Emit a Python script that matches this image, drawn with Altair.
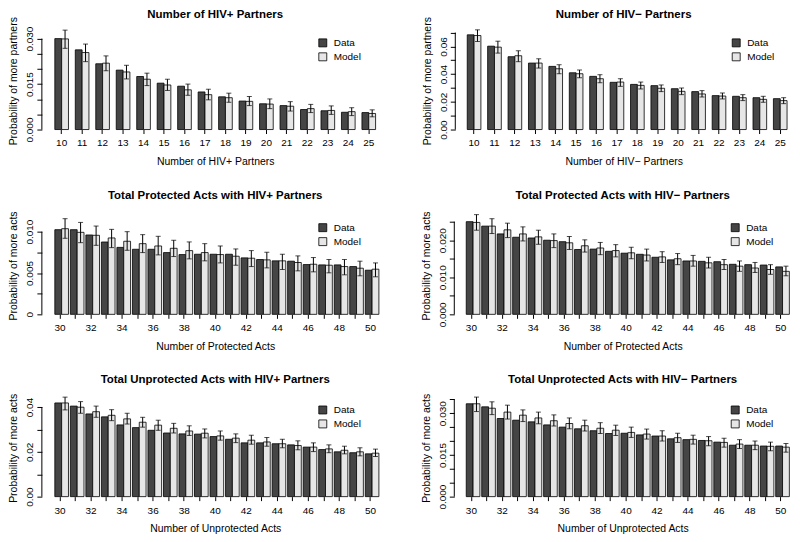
import altair as alt
import pandas as pd

FONT = "Liberation Sans"
DARK = "#454545"
LIGHT = "#e6e6e6"

# ---------------- data ----------------
partners_x = list(range(10, 26))
acts_x = list(range(30, 51))

hivpos_data = [0.0300, 0.0263, 0.0217, 0.0196, 0.0175, 0.0153, 0.0143, 0.0124, 0.0108, 0.0094, 0.0085, 0.0079, 0.0066, 0.0062, 0.0057, 0.0056]
hivpos_model = [0.0299, 0.0254, 0.0219, 0.0190, 0.0166, 0.0147, 0.0131, 0.0115, 0.0105, 0.0093, 0.0084, 0.0077, 0.0069, 0.0063, 0.0059, 0.0053]
hivpos_lo = [0.0268, 0.0224, 0.0194, 0.0167, 0.0145, 0.0129, 0.0113, 0.0098, 0.0090, 0.0079, 0.0069, 0.0061, 0.0056, 0.0050, 0.0046, 0.0042]
hivpos_hi = [0.0328, 0.0282, 0.0243, 0.0212, 0.0186, 0.0166, 0.0150, 0.0133, 0.0120, 0.0109, 0.0101, 0.0092, 0.0083, 0.0078, 0.0072, 0.0065]

hivneg_data = [0.0684, 0.0602, 0.0526, 0.0480, 0.0456, 0.0410, 0.0384, 0.0341, 0.0326, 0.0317, 0.0295, 0.0274, 0.0245, 0.0240, 0.0230, 0.0223]
hivneg_model = [0.0679, 0.0595, 0.0533, 0.0480, 0.0439, 0.0403, 0.0367, 0.0343, 0.0319, 0.0298, 0.0276, 0.0257, 0.0242, 0.0230, 0.0218, 0.0209]
hivneg_lo = [0.0636, 0.0552, 0.0490, 0.0444, 0.0403, 0.0374, 0.0338, 0.0312, 0.0293, 0.0274, 0.0252, 0.0235, 0.0221, 0.0209, 0.0197, 0.0187]
hivneg_hi = [0.0720, 0.0638, 0.0569, 0.0511, 0.0468, 0.0430, 0.0396, 0.0367, 0.0343, 0.0322, 0.0300, 0.0281, 0.0264, 0.0252, 0.0240, 0.0230]

protpos_data = [0.01024, 0.01024, 0.0096, 0.00875, 0.0081, 0.00787, 0.00787, 0.00747, 0.00723, 0.00727, 0.00727, 0.00727, 0.00683, 0.00663, 0.00647, 0.00643, 0.00602, 0.00598, 0.00598, 0.00578, 0.00534]
protpos_model = [0.01036, 0.00992, 0.00956, 0.00924, 0.00884, 0.00855, 0.00827, 0.00799, 0.00771, 0.00747, 0.00723, 0.00703, 0.00679, 0.00659, 0.00647, 0.00627, 0.00606, 0.00594, 0.00578, 0.00558, 0.00546]
protpos_lo = [0.0092, 0.00867, 0.00835, 0.00807, 0.00775, 0.00747, 0.00719, 0.00699, 0.00671, 0.00647, 0.00622, 0.00594, 0.00578, 0.00562, 0.00542, 0.00526, 0.00514, 0.00502, 0.00478, 0.00466, 0.00454]
protpos_hi = [0.01157, 0.01112, 0.01068, 0.01028, 0.0100, 0.00964, 0.00944, 0.00896, 0.00876, 0.00855, 0.00827, 0.00791, 0.00771, 0.00751, 0.00727, 0.00707, 0.00687, 0.00663, 0.00663, 0.00643, 0.00622]

protneg_data = [0.0250, 0.0238, 0.0217, 0.0208, 0.0206, 0.0200, 0.0196, 0.0175, 0.0176, 0.0170, 0.0165, 0.0162, 0.0154, 0.0147, 0.0144, 0.0143, 0.0142, 0.0135, 0.0134, 0.0133, 0.0128]
protneg_model = [0.0248, 0.0238, 0.0228, 0.0217, 0.0209, 0.0199, 0.0193, 0.0185, 0.0179, 0.0172, 0.0166, 0.0160, 0.0155, 0.0150, 0.0144, 0.0139, 0.0134, 0.0130, 0.0125, 0.0121, 0.0116]
protneg_lo = [0.0227, 0.0218, 0.0207, 0.0198, 0.0189, 0.0180, 0.0175, 0.0168, 0.0161, 0.0155, 0.0150, 0.0144, 0.0140, 0.0134, 0.0130, 0.0125, 0.0121, 0.0116, 0.0113, 0.0108, 0.0104]
protneg_hi = [0.0269, 0.0258, 0.0246, 0.0236, 0.0227, 0.0217, 0.0210, 0.0201, 0.0194, 0.0188, 0.0181, 0.0176, 0.0169, 0.0164, 0.0159, 0.0154, 0.0148, 0.0144, 0.0140, 0.0134, 0.0130]

unprotpos_data = [0.0418, 0.0404, 0.0369, 0.0356, 0.0320, 0.0308, 0.0296, 0.0284, 0.0280, 0.0279, 0.0268, 0.0256, 0.0240, 0.0240, 0.0236, 0.0231, 0.0221, 0.0210, 0.0200, 0.0196, 0.0191]
unprotpos_model = [0.0418, 0.0399, 0.0379, 0.0363, 0.0347, 0.0332, 0.0319, 0.0305, 0.0293, 0.0283, 0.0271, 0.0261, 0.0252, 0.0244, 0.0236, 0.0228, 0.0221, 0.0213, 0.0207, 0.0200, 0.0194]
unprotpos_lo = [0.0387, 0.0372, 0.0354, 0.0339, 0.0324, 0.0310, 0.0296, 0.0284, 0.0273, 0.0262, 0.0252, 0.0241, 0.0234, 0.0225, 0.0218, 0.0209, 0.0201, 0.0196, 0.0191, 0.0182, 0.0179]
unprotpos_hi = [0.0444, 0.0424, 0.0404, 0.0388, 0.0372, 0.0354, 0.0341, 0.0327, 0.0316, 0.0302, 0.0293, 0.0280, 0.0274, 0.0264, 0.0256, 0.0249, 0.0240, 0.0231, 0.0225, 0.0218, 0.0212]

unprotneg_data = [0.0334, 0.0323, 0.0281, 0.0275, 0.0269, 0.0258, 0.0250, 0.0244, 0.0237, 0.0227, 0.0228, 0.0222, 0.0218, 0.0208, 0.0205, 0.0202, 0.0196, 0.0185, 0.0185, 0.0182, 0.0182]
unprotneg_model = [0.0334, 0.0318, 0.0304, 0.0293, 0.0283, 0.0273, 0.0263, 0.0255, 0.0246, 0.0239, 0.0231, 0.0225, 0.0218, 0.0212, 0.0206, 0.0201, 0.0195, 0.0189, 0.0185, 0.0181, 0.0178]
unprotneg_lo = [0.0306, 0.0295, 0.0279, 0.0270, 0.0262, 0.0254, 0.0244, 0.0236, 0.0227, 0.0220, 0.0213, 0.0207, 0.0200, 0.0195, 0.0189, 0.0183, 0.0178, 0.0173, 0.0169, 0.0165, 0.0160]
unprotneg_hi = [0.0358, 0.0341, 0.0329, 0.0312, 0.0304, 0.0294, 0.0283, 0.0275, 0.0266, 0.0257, 0.0250, 0.0243, 0.0237, 0.0228, 0.0221, 0.0216, 0.0210, 0.0205, 0.0200, 0.0196, 0.0191]

# y-axis ticks and labelled ticks
ticks_p1 = [0.0, 0.005, 0.01, 0.015, 0.02, 0.025, 0.03]
labels_p1 = [(0.0, "0.000"), (0.015, "0.015"), (0.03, "0.030")]
ticks_p2 = [0.0, 0.01, 0.02, 0.03, 0.04, 0.05, 0.06, 0.07]
labels_p2 = [(0.0, "0.00"), (0.02, "0.02"), (0.04, "0.04"), (0.06, "0.06")]
ticks_p3 = [0.0, 0.0025, 0.005, 0.0075, 0.01]
labels_p3 = [(0.0, "0"), (0.005, "0.005"), (0.01, "0.010")]
ticks_p4 = [0.0, 0.005, 0.01, 0.015, 0.02, 0.025]
labels_p4 = [(0.0, "0.000"), (0.01, "0.010"), (0.02, "0.020")]
ticks_p5 = [0.0, 0.01, 0.02, 0.03, 0.04]
labels_p5 = [(0.0, "0.00"), (0.02, "0.02"), (0.04, "0.04")]
ticks_p6 = [0.0, 0.005, 0.01, 0.015, 0.02, 0.025, 0.03, 0.035]
labels_p6 = [(0.0, "0.000"), (0.015, "0.015"), (0.03, "0.030")]

H = 98
LEFT = dict(W=348, L=13, R=13, lx=277)
RIGHT = dict(W=338, L=12, R=5, lx=277)

panels = [
    dict(title="Number of HIV+ Partners", xtitle="Number of HIV+ Partners", ytitle="Probability of more partners",
         x=partners_x, data=hivpos_data, model=hivpos_model, lo=hivpos_lo, hi=hivpos_hi,
         ticks=ticks_p1, labels=labels_p1, ymax=0.03221, even=False, toff=-4.5, **LEFT),
    dict(title="Number of HIV\u2212 Partners", xtitle="Number of HIV\u2212 Partners", ytitle="Probability of more partners",
         x=partners_x, data=hivneg_data, model=hivneg_model, lo=hivneg_lo, hi=hivneg_hi,
         ticks=ticks_p2, labels=labels_p2, ymax=0.0705, even=False, toff=-4.5, **RIGHT),
    dict(title="Total Protected Acts with HIV+ Partners", xtitle="Number of Protected Acts", ytitle="Probability of more acts",
         x=acts_x, data=protpos_data, model=protpos_model, lo=protpos_lo, hi=protpos_hi,
         ticks=ticks_p3, labels=labels_p3, ymax=0.01181, even=True, toff=9.5, **LEFT),
    dict(title="Total Protected Acts with HIV\u2212 Partners", xtitle="Number of Protected Acts", ytitle="Probability of more acts",
         x=acts_x, data=protneg_data, model=protneg_model, lo=protneg_lo, hi=protneg_hi,
         ticks=ticks_p4, labels=labels_p4, ymax=0.02634, even=True, toff=9.5, **RIGHT),
    dict(title="Total Unprotected Acts with HIV+ Partners", xtitle="Number of Unprotected Acts", ytitle="Probability of more acts",
         x=acts_x, data=unprotpos_data, model=unprotpos_model, lo=unprotpos_lo, hi=unprotpos_hi,
         ticks=ticks_p5, labels=labels_p5, ymax=0.04356, even=True, toff=8, **LEFT),
    dict(title="Total Unprotected Acts with HIV\u2212 Partners", xtitle="Number of Unprotected Acts", ytitle="Probability of more acts",
         x=acts_x, data=unprotneg_data, model=unprotneg_model, lo=unprotneg_lo, hi=unprotneg_hi,
         ticks=ticks_p6, labels=labels_p6, ymax=0.03511, even=True, toff=8, **RIGHT),
]


def make_panel(p):
    n = len(p["x"])
    span = p["W"] - p["L"] - p["R"]
    step = span / (n - 1.0 / 3.0)
    po = (p["L"] + p["R"]) / (2.0 * step)
    al = p["L"] / (p["L"] + p["R"])

    bars = pd.DataFrame({
        "x": p["x"] + p["x"],
        "series": ["Data"] * n + ["Model"] * n,
        "value": p["data"] + p["model"],
    })
    err = pd.DataFrame({"x": p["x"], "series": ["Model"] * n, "lo": p["lo"], "hi": p["hi"]})
    axline = pd.DataFrame({"y0": [p["ticks"][0]], "y1": [p["ticks"][-1]]})

    xscale = alt.Scale(paddingInner=1.0 / 3.0, paddingOuter=po, align=al)
    oscale = alt.Scale(domain=["Data", "Model"], paddingInner=0, paddingOuter=0)
    yscale = alt.Scale(domain=[0, p["ymax"]], nice=False, zero=True)

    lab_expr = " : ".join(f"datum.value == {v!r} ? '{t}'" for v, t in p["labels"]) + " : ''"
    xlab_expr = "datum.value % 2 == 0 ? datum.label : ''" if p["even"] else "datum.label"

    xaxis = alt.Axis(title=p["xtitle"], domain=False, ticks=True, tickSize=4, tickColor="black",
                     tickWidth=1, labelAngle=0, labelPadding=4.5, labelFont=FONT, labelFontSize=10,
                     labelColor="black", labelExpr=xlab_expr, labelOverlap=False,
                     titleFont=FONT, titleFontSize=10.5, titleFontWeight="normal",
                     titleColor="black", titlePadding=8.5, grid=False)
    yaxis = alt.Axis(title=p["ytitle"], values=p["ticks"], domain=False, tickSize=5,
                     tickColor="black", tickWidth=1, labelAngle=270, labelAlign="center",
                     labelBaseline="bottom", labelPadding=2, labelFont=FONT, labelFontSize=10,
                     labelColor="black", labelExpr=lab_expr, labelOverlap=False,
                     titleFont=FONT, titleFontSize=10.5, titleFontWeight="normal",
                     titleColor="black", titlePadding=6, grid=False)

    X = alt.X("x:O", scale=xscale, axis=xaxis)
    XO = alt.XOffset("series:N", scale=oscale)

    axis_rule = alt.Chart(axline).mark_rule(color="black", strokeWidth=1).encode(
        x=alt.value(0),
        y=alt.Y("y0:Q", scale=yscale, axis=yaxis),
        y2="y1:Q",
    )

    bar = alt.Chart(bars).mark_bar(stroke="black", strokeWidth=0.8).encode(
        x=X,
        xOffset=XO,
        y=alt.Y("value:Q", scale=yscale, axis=yaxis),
        color=alt.Color("series:N",
                        scale=alt.Scale(domain=["Data", "Model"], range=[DARK, LIGHT]),
                        legend=alt.Legend(title=None, orient="none", legendX=p["lx"], legendY=6,
                                          symbolType="square", symbolSize=64,
                                          symbolStrokeColor="black", symbolStrokeWidth=0.8,
                                          labelFont=FONT, labelFontSize=10, labelColor="black",
                                          labelOffset=6, rowPadding=2, padding=0)),
    )

    whisker = alt.Chart(err).mark_rule(color="black", strokeWidth=1).encode(
        x=X, xOffset=XO,
        y=alt.Y("lo:Q", scale=yscale, axis=yaxis),
        y2="hi:Q",
    )
    cap_lo = alt.Chart(err).mark_tick(color="black", size=5, thickness=1).encode(
        x=X, xOffset=XO, y=alt.Y("lo:Q", scale=yscale, axis=yaxis),
    )
    cap_hi = alt.Chart(err).mark_tick(color="black", size=5, thickness=1).encode(
        x=X, xOffset=XO, y=alt.Y("hi:Q", scale=yscale, axis=yaxis),
    )

    return alt.layer(axis_rule, bar, whisker, cap_lo, cap_hi).properties(
        width=p["W"], height=H,
        title=alt.TitleParams(p["title"], font=FONT, fontSize=11.5, fontWeight="bold",
                              color="black", anchor="middle", frame="group", offset=p["toff"]),
    )


def make_row(a, b):
    return (
        alt.hconcat(a, b, spacing=33)
        .resolve_scale(color="independent")
        .resolve_legend(color="independent")
    )


charts = [make_panel(p) for p in panels]
row1 = make_row(charts[0], charts[1])
row2 = make_row(charts[2], charts[3])
row3 = make_row(charts[4], charts[5])

lower = (
    alt.vconcat(row2, row3, spacing=21)
    .resolve_scale(color="independent")
    .resolve_legend(color="independent")
)

chart = (
    alt.vconcat(row1, lower, spacing=22.5)
    .resolve_scale(color="independent")
    .resolve_legend(color="independent")
    .properties(padding=0, background="white")
    .configure_view(stroke=None)
)

chart.save("out.html", embed_options={"renderer": "svg", "actions": False})
